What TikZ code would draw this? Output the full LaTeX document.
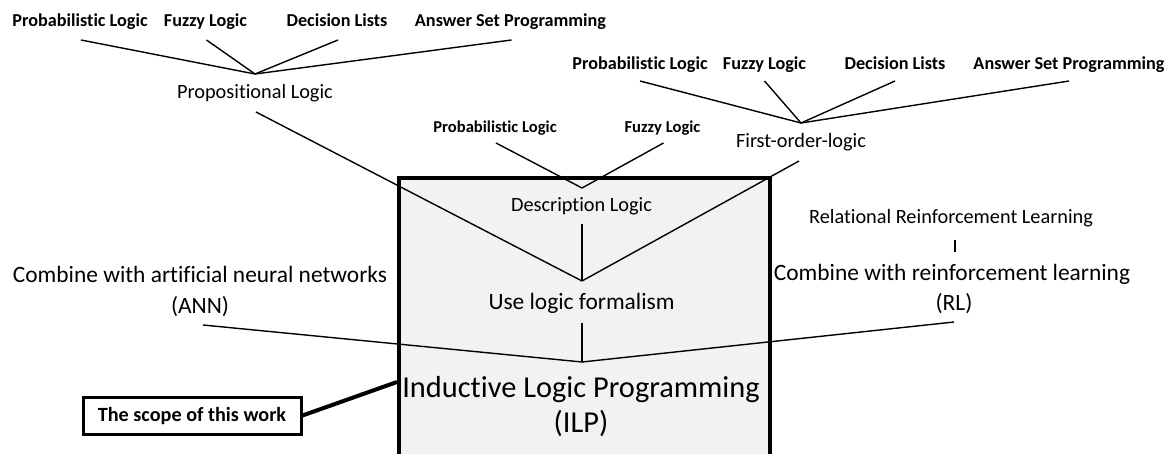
\documentclass[tikz,border=0pt]{standalone}
\usepackage{fontspec}
\setmainfont{Carlito}[Ligatures=NoCommon]
\usetikzlibrary{calc}
\tikzset{
  lbl/.style={font=\bfseries\fontsize{18.2}{22}\selectfont, anchor=base, inner sep=0pt},
  sublbl/.style={font=\bfseries\fontsize{16.6}{20}\selectfont, anchor=base, inner sep=0pt},
  topic/.style={font=\fontsize{20.3}{24}\selectfont, anchor=base, inner sep=0pt},
  branch/.style={font=\fontsize{23.4}{28}\selectfont, anchor=base, inner sep=0pt},
  title/.style={font=\fontsize{30.4}{36}\selectfont, anchor=base, inner sep=0pt},
  link/.style={line width=1.4pt},
  scopebox/.style={draw, line width=3pt, minimum width=218pt, minimum height=37pt,
    inner sep=0pt, font=\bfseries\fontsize{20.2}{24}\selectfont},
  framebox/.style={draw, line width=3.6pt, fill=black!5, minimum width=371pt,
    minimum height=310pt, inner sep=0pt, anchor=north west},
}
\begin{document}
\begin{tikzpicture}[x=1pt, y=-1pt]
\useasboundingbox (0,0) rectangle (1172,454);

% main frame around the ILP core
\node[framebox] (frame) at (397,176) {};

% propositional logic branch
\node[lbl] (pA) at (80,27)    {Probabilistic Logic};
\node[lbl] (fA) at (205.5,27) {Fuzzy Logic};
\node[lbl] (dA) at (337,27)   {Decision Lists};
\node[lbl] (aA) at (510.5,27) {Answer Set Programming};
\coordinate (cA) at (255,74);
\node[topic] (prop) at (255,99) {Propositional Logic};

% first-order logic branch
\node[lbl] (pB) at (640,70)   {Probabilistic Logic};
\node[lbl] (fB) at (764.5,70) {Fuzzy Logic};
\node[lbl] (dB) at (895,70)   {Decision Lists};
\node[lbl] (aB) at (1069,70)  {Answer Set Programming};
\coordinate (cB) at (801,123);
\node[topic] (fol) at (801,148) {First-order-logic};

% description logic branch
\node[sublbl] (pC) at (495,133)   {Probabilistic Logic};
\node[sublbl] (fC) at (662.5,133) {Fuzzy Logic};
\coordinate (cC) at (582,188);
\node[topic] (desc) at (581.5,212) {Description Logic};

% logic formalism
\coordinate (cU) at (582,281);
\node[branch] (use) at (581.5,309) {Use logic formalism};

% ILP core
\coordinate (cI) at (582,362);
\node[title] (ilp1) at (581,397) {Inductive Logic Programming};
\node[title] (ilp2) at (581,432) {(ILP)};

% neural network branch
\node[branch] (ann1) at (200,283) {Combine with artificial neural networks};
\node[branch] (ann2) at (200,313) {(ANN)};

% reinforcement learning branch
\node[topic]  (rrl) at (951,224) {Relational Reinforcement Learning};
\node[branch] (rl1) at (952,280) {Combine with reinforcement learning};
\node[branch] (rl2) at (954,310) {(RL)};

% scope marker
\node[scopebox] (scope) at (192,415.5) {The scope of this work};
\coordinate (hit) at (397,382);

% connectors
\foreach \n in {pA,fA,dA,aA} \draw[link] ($(\n.base)+(1,13)$) -- (cA);
\foreach \n in {pB,fB,dB,aB} \draw[link] ($(\n.base)+(0,11)$) -- (cB);
\foreach \n in {pC,fC} \draw[link] ($(\n.base)+(1,10)$) -- (cC);

\draw[link] ($(prop.base)+(1,13)$) -- (cU);
\draw[link] ($(fol.base)+(-2,13)$) -- (cU);
\draw[link] ($(desc.base)+(0.5,12)$) -- (cU);
\draw[link] ($(use.base)+(0.5,14)$) -- (cI);
\draw[link] ($(ann2.base)+(3,12)$) -- (cI);
\draw[link] ($(rl2.base)+(0,12)$) -- (cI);
\draw[link] ($(rrl.base)+(4,16)$) -- ($(rl1.base)+(3,-28)$);

\draw[line width=4pt] (scope.east) -- (hit);
\end{tikzpicture}
\end{document}
